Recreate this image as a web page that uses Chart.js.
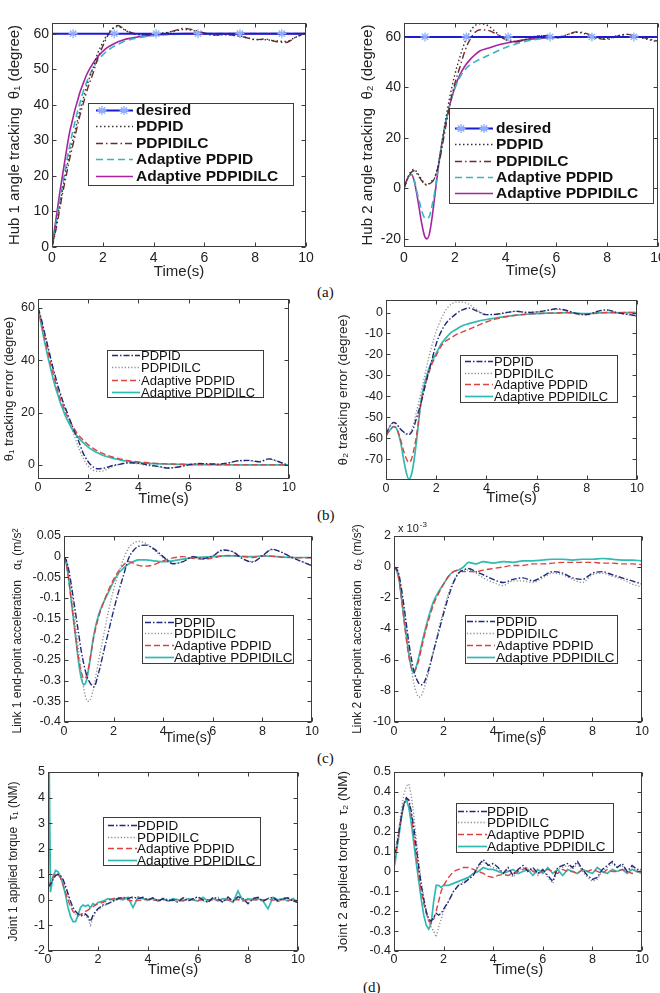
<!DOCTYPE html>
<html><head><meta charset="utf-8">
<script src="https://cdn.jsdelivr.net/npm/chart.js@4/dist/chart.umd.min.js"></script>
<style>
body{margin:0;background:#fff;width:660px;height:993px;position:relative;overflow:hidden}
canvas{position:absolute}
.cap{position:absolute;font-family:"Liberation Serif","Times New Roman",serif;font-size:15px;line-height:16px;color:#111}
</style></head><body>
<div class="cap" style="left:317px;top:284px">(a)</div>
<div class="cap" style="left:317px;top:507px">(b)</div>
<div class="cap" style="left:317px;top:750px">(c)</div>
<div class="cap" style="left:363px;top:979px">(d)</div>
<script>
// ---------- data ----------
const XT = [0,2,4,6,8,10];
const XL = ['0','2','4','6','8','10'];
const LEG_A = ['desired','PDPID','PDPIDILC','Adaptive PDPID','Adaptive PDPIDILC'];
const LEG_B = ['PDPID','PDPIDILC','Adaptive PDPID','Adaptive PDPIDILC'];

const TA = [0,0.1,0.2,0.3,0.4,0.5,0.6,0.7,0.8,0.9,1,1.1,1.2, 1.4,1.6,1.8,2,2.2,2.4,2.6,2.8,3, 3.3,3.6,4,4.4,4.8,5.2,5.6,6,6.4,6.8,7.2,7.6,8,8.4,8.8,9.2,9.6,10];
const TD = [0,0.05,0.1,0.2,0.3,0.4,0.5,0.6,0.7,0.8,0.9,1,1.1,1.2,1.3,1.4,1.5,1.6,1.7,1.8,1.9,2,
  2.2,2.4,2.6,2.8,3,3.2,3.4,3.6,3.8,4,4.2,4.4,4.6,4.8,5,5.2,5.4,5.6,5.8,6,6.2,6.4,6.6,6.8,7,7.2,7.4,7.6,7.8,8,8.2,8.4,8.6,8.8,9,9.2,9.4,9.6,9.8,10];

// (a) hub 1
const DES_T = [0,0.83,2.45,4.1,5.75,7.4,9.05,10];
const DES_V = [60,60,60,60,60,60,60,60];
const h1_pdpid = [0,3.5,7.5,11.5,15.5,19.5,23,26.5,29.5,32.5,35.5,38.5,41, 46,50,54.5,57.5,60,61.5,62,61.3,60.5, 59.8,59.7,59.9,60.2,60.7,61.2,60.8,60,59.6,59.7,59.6,59,58.4,58.3,58,57.8,59,60.2];
const h1_ilc   = [0,3,6.5,10.5,14.5,18,21.5,25,28,31,34,37,39.5, 44.5,48.5,53,56.5,59.5,61.5,62.3,61.5,60.6, 60,59.8,59.6,60,60.8,61.5,61,60.2,59.6,59.8,59.5,59,58.3,58.5,57.8,57.5,59,60.3];
const h1_adp   = [0,4,8.5,13,17,21,25,28.5,32,35,38,40.5,43, 47,50,52.5,54,55.3,56.3,57,57.7,58.2, 58.7,59.1,59.5,59.7,59.8,59.9,60,60,60,60,60,60,60,60,60,60,60,60];
const h1_adi   = [0,5,10,15,19.5,24,28.5,32.5,35.5,38.5,41,43.5,45.5, 49,51.5,53.5,55,56.2,57,57.7,58.2,58.6, 59,59.3,59.6,59.8,59.9,60,60,60,60,60,60,60,60,60,60,60,60,60];
// (a) hub 2
const h2_pdpid = [0,3,5.5,7,7.5,6.5,5,3.5,2,1.5,2,3,4, 12,25,36,45,52,58,62,64.5,65.2, 64.5,62,59,58.2,59,60.3,60.5,59.8,60.8,61.8,61,59.5,59.3,60.5,61,60,59,58];
const h2_ilc   = [0,3,5,6.5,7,6,4.5,3,1.8,1.3,1.8,2.5,4, 11,22,33,41.5,48,54.5,59,61.8,62.8, 62.6,61.3,59,58,59,60.3,60.5,59.6,60.8,62,61.3,59.6,59,60.3,61,60.2,59.3,58.3];
const h2_adp   = [0,3,5,5.5,3.5,-1,-5,-9,-11.5,-12,-11,-7,-2, 12,24,33,39.5,44,47,49,50.2,51.2, 52.6,54,55.8,57.2,58.3,59,59.4,59.7,59.9,60,60,60,60,60,60,60,60,60];
const h2_adi   = [0,3,5,5.5,3,-2,-8,-14,-18.5,-20,-18,-12,-4, 12,24,33,40,45,48.5,51,53,54.5, 55.5,56.5,57.5,58.3,58.9,59.3,59.6,59.8,59.9,60,60,60,60,60,60,60,60,60];
// (b) error 1
const e1_pdpid = [60,57,53,49,45,41,37,33.5,30,27,24,21.5,19, 14,9.5,4.5,1.2,-0.8,-1.5,-1.3,-0.8,-0.2, 0.3,0.8,0.6,0,-0.6,-1.2,-0.8,0,0.5,0.4,0.3,0.8,1.6,1.7,1.2,2.3,1.2,-0.3];
const e1_ilc   = [60,56.5,52.5,48.5,44.5,40.5,36.5,33,29.5,26.5,23.5,20.5,18, 12.5,7,2.5,-0.5,-2,-2.5,-2.3,-1.5,-0.5, 0.3,0.7,0.4,-0.3,-0.8,-1.2,-0.8,0,0.4,0.3,0.3,0.7,1.5,1.6,1.1,2.2,1.1,-0.3];
const e1_adp   = [60,56,51.5,47,43,39,35,31.5,28,25,22.5,20,18, 14.5,11.5,9.5,7.7,6.3,5.2,4.3,3.5,2.9, 2.2,1.6,1.1,0.8,0.5,0.35,0.25,0.15,0.1,0.1,0.05,0.05,0,0,0,0,0,0];
const e1_adi   = [60,55,50,45.5,41,37,33,29.5,26.5,23.5,21,18.5,16.5, 13,10.5,8.5,6.8,5.5,4.5,3.6,3,2.5, 1.8,1.3,0.9,0.6,0.4,0.3,0.2,0.15,0.1,0.1,0.05,0.05,0,0,0,0,0,0];
// (b) error 2
const e2_pdpid = [-58,-55.5,-53.5,-52.5,-53,-54.5,-56,-57,-58,-58.3,-57.5,-55,-51, -43,-33,-24,-15,-9,-5,-2.5,-0.5,1, 2.2,0.8,-1,-0.8,0,0.6,0,0.3,1,1.8,1,-0.5,-1,0.5,1.3,0,-0.8,-1.5];
const e2_ilc   = [-58,-55.5,-53.5,-52.5,-53,-54.5,-56,-57,-58,-57.5,-56.5,-53,-48, -38,-27,-17,-9,-3,1.5,4,5,5, 4,1.5,-1,-1,0,0.6,0.2,0.3,1,1.5,0.8,-0.8,-1.2,0.3,1.2,0,-1,-1.8];
const e2_adp   = [-59,-57,-55.5,-54.5,-55,-57.5,-61.5,-66,-69.5,-71.5,-70.5,-66,-60, -43,-33,-25.5,-20.5,-16,-13.5,-12,-10.5,-9.5, -8,-6.5,-4.5,-3,-2,-1.3,-0.8,-0.5,-0.3,-0.2,0,-0.5,-0.6,-0.3,0,-0.1,0,0];
const e2_adi   = [-59,-57,-55.5,-54.5,-55,-58,-63,-70,-76,-79.5,-78,-72,-63, -42,-31,-24,-19.5,-15,-12,-9.5,-8,-6.5, -5.3,-4.3,-3.3,-2.5,-1.8,-1.2,-0.8,-0.5,-0.3,-0.2,0,-0.3,-0.5,-0.2,0,-0.1,0,0];
// (c) acceleration 1
const a1_pdpid = [0,-0.01,-0.035,-0.07,-0.11,-0.15,-0.19,-0.23,-0.26,-0.285,-0.3,-0.31,-0.315, -0.28,-0.23,-0.18,-0.13,-0.085,-0.045,-0.005,0.015,0.025, 0.028,0.02,0,-0.017,-0.012,0,-0.005,0.002,0.016,0.012,-0.005,-0.013,0.002,0.018,0.01,-0.002,-0.012,-0.022];
const a1_ilc   = [0,-0.01,-0.04,-0.08,-0.13,-0.18,-0.23,-0.28,-0.32,-0.345,-0.35,-0.34,-0.315, -0.25,-0.19,-0.13,-0.08,-0.04,-0.005,0.02,0.033,0.037, 0.032,0.018,-0.003,-0.016,-0.012,0,-0.005,0.002,0.015,0.012,-0.005,-0.012,0.002,0.017,0.01,-0.002,-0.012,-0.02];
const a1_adp   = [0,-0.02,-0.06,-0.11,-0.16,-0.21,-0.25,-0.28,-0.295,-0.29,-0.265,-0.23,-0.195, -0.145,-0.11,-0.08,-0.055,-0.035,-0.02,-0.012,-0.016,-0.021, -0.023,-0.02,-0.01,-0.003,0,-0.004,-0.006,-0.003,0.002,0.003,0.001,-0.002,0.002,0.001,-0.001,-0.002,-0.003,-0.003];
const a1_adi   = [0,-0.02,-0.06,-0.11,-0.16,-0.21,-0.26,-0.295,-0.31,-0.3,-0.27,-0.23,-0.19, -0.14,-0.11,-0.085,-0.06,-0.04,-0.028,-0.018,-0.012,-0.008, -0.008,-0.01,-0.012,-0.01,-0.006,-0.003,-0.001,0,0.002,0.002,0,0,0.002,0.001,-0.001,-0.002,-0.002,-0.002];
// (c) acceleration 2 (x 1e-3)
const a2_pdpid = [0,-0.1,-0.5,-1.4,-2.5,-3.7,-4.9,-5.9,-6.7,-7.2,-7.5,-7.6,-7.5, -6.6,-5.4,-4.2,-3,-1.9,-1,-0.4,-0.2,-0.1, -0.3,-0.5,-0.8,-1,-0.8,-0.7,-0.9,-0.6,-0.3,-0.4,-0.7,-0.8,-0.4,-0.3,-0.5,-0.7,-0.9,-1.1];
const a2_ilc   = [0,-0.1,-0.5,-1.5,-2.8,-4.2,-5.5,-6.6,-7.5,-8.1,-8.4,-8.3,-7.9, -6.8,-5.4,-4,-2.8,-1.7,-0.9,-0.4,-0.2,-0.2, -0.4,-0.7,-1,-1.2,-0.9,-0.9,-1,-0.7,-0.4,-0.5,-0.8,-1,-0.5,-0.4,-0.6,-0.8,-1.1,-1.3];
const a2_adp   = [0,-0.2,-0.8,-2,-3.4,-4.7,-5.8,-6.5,-6.8,-6.5,-6,-5.3,-4.6, -3.4,-2.4,-1.7,-1.1,-0.6,-0.3,-0.2,-0.3,-0.3, -0.3,-0.2,-0.1,0,0.1,0.1,0.2,0.2,0.25,0.3,0.3,0.3,0.3,0.25,0.25,0.2,0.2,0.15];
const a2_adi   = [0,-0.2,-0.8,-2,-3.3,-4.5,-5.6,-6.5,-6.8,-6.4,-5.8,-5.1,-4.4, -3.2,-2.2,-1.6,-1.1,-0.6,-0.3,-0.2,0,0.3, 0.2,0.35,0.25,0.35,0.3,0.4,0.4,0.45,0.5,0.5,0.45,0.5,0.5,0.55,0.5,0.45,0.45,0.4];
// (d) torque 1
const t1_pdpid = [0.5,0.55,0.6,0.8,0.95,1.0,0.95,0.8,0.55,0.25,-0.05,-0.3,-0.45,-0.55,-0.6,-0.6,-0.55,-0.65,-0.85,-0.6,-0.45,-0.35,
  -0.2,-0.15,-0.05,0.05,0.1,0.05,0.12,0.05,0.1,0, 0.08,-0.05,0.05,-0.05,0,-0.1,0.08,-0.05,0.05,0.12, 0,-0.1,0.1,0.05,-0.1,0.1,-0.05,0.12,0.05,-0.15, 0.05,0.1,-0.05,0.05,0.1,-0.05,0.05,0.08,-0.05,-0.1];
const t1_ilc   = [0.5,0.55,0.65,0.85,0.98,1.0,0.92,0.75,0.45,0.15,-0.15,-0.4,-0.55,-0.62,-0.65,-0.62,-0.6,-0.75,-1.0,-0.7,-0.5,-0.4,
  -0.25,-0.15,-0.05,0,0.08,0.1,0.05,0.12,0.05,-0.05, 0.1,-0.05,0,0.05,-0.05,-0.05,0.1,0,0.05,0.1, -0.05,-0.1,0.05,0.1,-0.05,0.12,-0.1,0.1,0,-0.12, 0.08,0.05,-0.08,0.08,0.05,-0.1,0.08,0.05,-0.05,-0.12];
const t1_adp   = [0.5,0.6,0.7,0.9,1.0,1.0,0.85,0.6,0.3,0,-0.25,-0.45,-0.55,-0.6,-0.58,-0.52,-0.45,-0.4,-0.32,-0.27,-0.2,-0.15,
  -0.1,-0.02,0.05,0.08,0.05,0,-0.05,-0.02,0,0.02, -0.02,0,0.02,-0.02,0,0.01,-0.01,0,0.02,-0.02, 0,0.01,-0.01,0,0.02,-0.01,0,0.01,-0.01,0, 0.01,-0.01,0,0.02,-0.01,0,0.01,-0.01,0,-0.02];
const t1_adi   = [0.2,5,0.3,0.9,1.15,1.1,0.9,0.6,0.2,-0.3,-0.65,-0.85,-0.85,-0.6,-0.3,-0.2,-0.25,-0.2,-0.3,-0.15,-0.2,-0.1,
  -0.05,0.05,0,0.05,0,0.1,-0.3,0.1,0.05,0, 0.05,-0.05,0.05,-0.05,0.05,0,-0.05,0.05,0,-0.05, 0.1,-0.05,0.05,-0.05,0.05,0,-0.1,0.35,-0.05,0.05, 0,0.05,-0.05,-0.35,0.1,0,0.05,-0.05,0.05,-0.1];
// (d) torque 2
const t2_pdpid = [0.12,0.1,0.12,0.2,0.28,0.34,0.37,0.36,0.3,0.22,0.12,0.02,-0.07,-0.14,-0.2,-0.24,-0.25,-0.23,-0.21,-0.22,-0.21,-0.19,
  -0.15,-0.1,-0.07,-0.06,-0.04,-0.02,0.03,0.06,0.03,0.04, 0.02,-0.01,0.02,-0.02,0.01,0.03,0,0.02,-0.01,0.01, -0.02,-0.05,0.02,0.03,0.04,0.02,0.05,0.01,-0.02,-0.04, -0.03,0.01,0.03,0.05,0.02,0.04,0,0.03,0.01,0.01];
const t2_ilc   = [0.1,0.12,0.14,0.22,0.31,0.39,0.43,0.44,0.38,0.28,0.16,0.05,-0.05,-0.13,-0.2,-0.25,-0.28,-0.3,-0.33,-0.28,-0.24,-0.2,
  -0.15,-0.1,-0.07,-0.05,-0.03,-0.01,0.02,0.05,0.03,0.02, 0.01,-0.01,0.01,-0.03,0,0.02,0,0.01,-0.02,0.01, -0.03,-0.06,0.01,0.02,0.03,0.01,0.04,0,-0.03,-0.05, -0.04,0,0.02,0.04,0.02,0.03,-0.01,0.02,0,0];
const t2_adp   = [0.05,0.07,0.12,0.2,0.28,0.34,0.37,0.35,0.28,0.18,0.08,-0.02,-0.1,-0.16,-0.21,-0.25,-0.26,-0.24,-0.2,-0.15,-0.1,-0.07,
  -0.03,0,0.01,0.02,0.02,0.01,0,-0.01,-0.025,-0.03, -0.02,-0.015,-0.02,-0.01,0,0.01,0.02,0,-0.01,0, 0.01,0,-0.01,0.01,0,0,-0.01,0.01,0,0.01, 0,-0.01,0.01,0,0,0.01,0,-0.01,0,0];
const t2_adi   = [0.02,0.05,0.1,0.18,0.27,0.34,0.36,0.32,0.24,0.14,0.04,-0.05,-0.14,-0.22,-0.27,-0.29,-0.26,-0.15,-0.07,-0.07,-0.08,-0.07,
  -0.07,-0.06,-0.05,-0.04,-0.03,-0.01,0,0.02,0.01,0.01, 0,-0.01,0,0.01,-0.01,0,0.01,-0.02,0.01,-0.01, 0.02,-0.01,0.01,-0.02,0.01,0,-0.01,0.01,0,-0.01, 0.02,0,-0.01,0.01,0,0.01,-0.01,0.01,0,-0.01];

// tick values / labels
const Y1T=[0,10,20,30,40,50,60], Y1L=['0','10','20','30','40','50','60'];
const Y2T=[-20,0,20,40,60], Y2L=['-20','0','20','40','60'];
const Y3T=[0,20,40,60], Y3L=['0','20','40','60'];
const Y4T=[-70,-60,-50,-40,-30,-20,-10,0], Y4L=['-70','-60','-50','-40','-30','-20','-10','0'];
const Y5T=[-0.4,-0.35,-0.3,-0.25,-0.2,-0.15,-0.1,-0.05,0,0.05], Y5L=['-0.4','-0.35','-0.3','-0.25','-0.2','-0.15','-0.1','-0.05','0','0.05'];
const Y6T=[-10,-8,-6,-4,-2,0,2], Y6L=['-10','-8','-6','-4','-2','0','2'];
const Y7T=[-2,-1,0,1,2,3,4,5], Y7L=['-2','-1','0','1','2','3','4','5'];
const Y8T=[-0.4,-0.3,-0.2,-0.1,0,0.1,0.2,0.3,0.4,0.5], Y8L=['-0.4','-0.3','-0.2','-0.1','0','0.1','0.2','0.3','0.4','0.5'];

// ---------- styles ----------
const FF = "'Liberation Sans', Arial, 'DejaVu Sans', sans-serif";
const STYLE_A = [
  {color:'#1b1bd6', dash:[], width:2, marker:true},
  {color:'#333333', dash:[1.5,2.5], width:1.4},
  {color:'#6e2b2b', dash:[7,3,1.5,3], width:1.4},
  {color:'#33b8c4', dash:[7,4], width:1.6},
  {color:'#a8239f', dash:[], width:1.6}
];
const STYLE_B = [
  {color:'#1f2a7a', dash:[6,2,1.5,2], width:1.4},
  {color:'#8c8c8c', dash:[1.2,2], width:1.3},
  {color:'#d9443f', dash:[6,3], width:1.4},
  {color:'#2fbab2', dash:[], width:1.7}
];

function star(ctx,x,y,r,col){
  ctx.save(); ctx.strokeStyle=col; ctx.lineWidth=1.3; ctx.setLineDash([]); ctx.beginPath();
  for(let k=0;k<4;k++){const an=k*Math.PI/4; ctx.moveTo(x-r*Math.cos(an),y-r*Math.sin(an)); ctx.lineTo(x+r*Math.cos(an),y+r*Math.sin(an));}
  ctx.stroke(); ctx.restore();
}

function deco(c, spec, ox, oy){
  const ctx=c.ctx, a=c.chartArea, xs=c.scales.x, ys=c.scales.y;
  ctx.save();
  ctx.setLineDash([]); ctx.strokeStyle='#3c3c3c'; ctx.lineWidth=1;
  const L=Math.round(a.left)+0.5, R=Math.round(a.right)-0.5, T=Math.round(a.top)+0.5, B=Math.round(a.bottom)-0.5;
  ctx.strokeRect(L,T,R-L,B-T);
  ctx.beginPath();
  xs.ticks.forEach(t=>{const p=Math.round(xs.getPixelForValue(t.value))+0.5; ctx.moveTo(p,B); ctx.lineTo(p,B-4); ctx.moveTo(p,T); ctx.lineTo(p,T+4);});
  ys.ticks.forEach(t=>{const p=Math.round(ys.getPixelForValue(t.value))+0.5; ctx.moveTo(L,p); ctx.lineTo(L+4,p); ctx.moveTo(R,p); ctx.lineTo(R-4,p);});
  ctx.stroke();
  const g=spec.legend;
  if(g){
    const bx=Math.round(g.box[0]-ox)+0.5, by=Math.round(g.box[1]-oy)+0.5, bw=g.box[2]-g.box[0], bh=g.box[3]-g.box[1];
    ctx.fillStyle='#fff'; ctx.fillRect(bx,by,bw,bh);
    ctx.strokeStyle='#3c3c3c'; ctx.lineWidth=1; ctx.strokeRect(bx,by,bw,bh);
    ctx.font=g.font; ctx.textBaseline='middle'; ctx.textAlign='left';
    c.data.datasets.forEach((ds,i)=>{
      const y=Math.round(g.rows[i]-oy)+0.5, x0=g.line[0]-ox, x1=g.line[1]-ox;
      ctx.beginPath(); ctx.setLineDash(ds.borderDash||[]); ctx.strokeStyle=ds.borderColor; ctx.lineWidth=ds.borderWidth;
      ctx.moveTo(x0,y); ctx.lineTo(x1,y); ctx.stroke(); ctx.setLineDash([]);
      if(spec.styles[i].marker){ [x0+6,x1-9].forEach(mx=>star(ctx,mx,y,4.5,'#8fb0ff')); }
      ctx.fillStyle='#111'; ctx.fillText(ds.label, g.text-ox, y+0.5);
    });
  }
  if(spec.exp){
    ctx.fillStyle='#222'; ctx.textBaseline='alphabetic'; ctx.textAlign='left';
    ctx.font='11px '+FF; const base='x 10'; ctx.fillText(base, spec.exp[0]-ox, spec.exp[1]-oy);
    const w=ctx.measureText(base).width;
    ctx.font='8px '+FF; ctx.fillText('-3', spec.exp[0]-ox+w+1, spec.exp[1]-oy-5);
  }
  ctx.restore();
}

function build(spec){
  const [pl,ptp,prt,pbt] = spec.plot;
  const left = pl - spec.yw, top = ptp - spec.pt;
  const cw = prt - pl + spec.yw + spec.pr, ch = pbt - ptp + spec.pt + spec.xh;
  const cv = document.createElement('canvas');
  cv.width=cw; cv.height=ch;
  cv.style.left=left+'px'; cv.style.top=top+'px'; cv.style.width=cw+'px'; cv.style.height=ch+'px';
  document.body.appendChild(cv);
  const datasets = spec.series.map((s,i)=>{
    const st=spec.styles[i];
    return {
      label: spec.names[i],
      data: s.t.map((t,j)=>({x:t,y:s.v[j]})),
      borderColor: st.color, borderDash: st.dash, borderWidth: st.width,
      pointRadius: st.marker ? (cx=>(cx.dataIndex===0||cx.dataIndex===s.t.length-1)?0:4.5) : 0,
      pointStyle: 'star', pointBorderColor:'#8fb0ff', pointBackgroundColor:'#8fb0ff', pointBorderWidth:1.3,
      fill:false,
      tension: 0,
      cubicInterpolationMode: spec.smooth ? 'monotone' : 'default'
    };
  });
  new Chart(cv,{
    type:'line',
    data:{datasets},
    options:{
      responsive:false, animation:false, devicePixelRatio:1, events:[],
      layout:{autoPadding:false, padding:{top:spec.pt,right:spec.pr,bottom:0,left:0}},
      plugins:{legend:{display:false}, tooltip:{enabled:false}},
      scales:{
        x:{type:'linear', min:0, max:10,
          afterBuildTicks:s=>{s.ticks=XT.map(v=>({value:v}));},
          afterFit:s=>{s.height=spec.xh; s.paddingLeft=0; s.paddingRight=0;},
          grid:{display:false, drawTicks:false}, border:{display:false},
          ticks:{autoSkip:false, maxRotation:0, padding:spec.xtp, color:'#222', font:{family:FF,size:spec.xtf}, callback:(v,i)=>XL[i]},
          title:{display:true, text:'Time(s)', color:'#222', font:{family:FF,size:spec.xtitf}, padding:{top:0,bottom:2}}
        },
        y:{type:'linear', min:spec.ymin, max:spec.ymax,
          afterBuildTicks:s=>{s.ticks=spec.yt.map(v=>({value:v}));},
          afterFit:s=>{s.width=spec.yw; s.paddingTop=0; s.paddingBottom=0;},
          grid:{display:false, drawTicks:false}, border:{display:false},
          ticks:{autoSkip:false, padding:3, color:'#222', font:{family:FF,size:spec.ytf}, callback:(v,i)=>spec.yl[i]},
          title:{display:true, text:spec.ytitle, color:'#222', font:{family:FF,size:spec.ytitf}, padding:{top:spec.ytp,bottom:0}}
        }
      }
    },
    plugins:[{id:'deco', afterDraw:c=>deco(c,spec,left,top)}]
  });
}

const rowA = (s)=>Object.assign({styles:STYLE_A,names:LEG_A,smooth:true,xtf:14,ytf:14,xtp:3,xtitf:15,ytitf:15,pt:10,pr:10},s);
const rowB = (s)=>Object.assign({styles:STYLE_B,names:LEG_B,smooth:true,xtf:12.5,ytf:12.5,xtp:1,xtitf:15,ytitf:13,pt:10,pr:10},s);

build(rowA({plot:[52,23,306,247], yw:52, xh:36, ymin:0, ymax:63, yt:Y1T, yl:Y1L, ytp:6,
  ytitle:'Hub 1 angle tracking  θ\u2081 (degree)',
  series:[{t:DES_T,v:DES_V},{t:TA,v:h1_pdpid},{t:TA,v:h1_ilc},{t:TA,v:h1_adp},{t:TA,v:h1_adi}],
  legend:{box:[88,103,293,185], line:[96,133], text:136, rows:[110,126,143,159,176], font:'bold 15.5px '+FF}}));
build(rowA({plot:[404,23,658,247], yw:50, xh:35, pr:2, ymin:-23.2, ymax:65.5, yt:Y2T, yl:Y2L, ytp:5,
  ytitle:'Hub 2 angle tracking  θ\u2082 (degree)',
  series:[{t:DES_T,v:DES_V},{t:TA,v:h2_pdpid},{t:TA,v:h2_ilc},{t:TA,v:h2_adp},{t:TA,v:h2_adi}],
  legend:{box:[449,108,653,203], line:[455,493], text:496, rows:[128,144,161,177,193], font:'bold 15.5px '+FF}}));
build(rowB({plot:[38,299,289,479], yw:38, xh:31, ymin:-5.4, ymax:63.4, yt:Y3T, yl:Y3L, ytp:2,
  ytitle:'θ\u2081 tracking error (degree)',
  series:[{t:TA,v:e1_pdpid},{t:TA,v:e1_ilc},{t:TA,v:e1_adp},{t:TA,v:e1_adi}],
  legend:{box:[107,350,263,397], line:[112,140], text:141, rows:[355,367,380,392], font:'13px '+FF}}));
build(rowB({plot:[386,300,637,480], yw:55, xh:29, pr:12, ymin:-80, ymax:6, yt:Y4T, yl:Y4L, ytp:4, ytitf:13.5,
  ytitle:'θ\u2082 tracking error (degree)',
  series:[{t:TA,v:e2_pdpid},{t:TA,v:e2_ilc},{t:TA,v:e2_adp},{t:TA,v:e2_adi}],
  legend:{box:[460,355,617,402], line:[465,493], text:494, rows:[361,373,384,396], font:'13px '+FF}}));
build(rowB({plot:[64,536,312,722], yw:64, xh:27, pt:8, xtp:2, ymin:-0.4, ymax:0.05, yt:Y5T, yl:Y5L, ytp:10, ytitf:12, xtitf:14,
  ytitle:'Link 1 end-point acceleration   α\u2081 (m/s\u00b2)',
  series:[{t:TA,v:a1_pdpid},{t:TA,v:a1_ilc},{t:TA,v:a1_adp},{t:TA,v:a1_adi}],
  legend:{box:[142,615,293,663], line:[145,174], text:174, rows:[622,633,645,657], font:'13.5px '+FF}}));
build(rowB({plot:[394,536,642,722], yw:50, xh:27, pt:20, xtp:2, ymin:-10, ymax:2, yt:Y6T, yl:Y6L, ytp:6, ytitf:12, xtitf:14,
  ytitle:'Link 2 end-point acceleration   α\u2082 (m/s\u00b2)', exp:[398,532],
  series:[{t:TA,v:a2_pdpid},{t:TA,v:a2_ilc},{t:TA,v:a2_adp},{t:TA,v:a2_adi}],
  legend:{box:[465,615,617,663], line:[467,495], text:496, rows:[621,633,645,657], font:'13.5px '+FF}}));
build(rowB({plot:[48,772,298,951], yw:48, xh:30, smooth:false, ymin:-2, ymax:5, yt:Y7T, yl:Y7L, ytp:6, ytitf:12,
  ytitle:'Joint 1 applied torque  τ\u2081 (NM)',
  series:[{t:TD,v:t1_pdpid},{t:TD,v:t1_ilc},{t:TD,v:t1_adp},{t:TD,v:t1_adi}],
  legend:{box:[103,817,260,865], line:[108,137], text:137, rows:[825,837,848,860], font:'13.5px '+FF}}));
build(rowB({plot:[394,772,642,951], yw:60, xh:30, smooth:false, ymin:-0.4, ymax:0.5, yt:Y8T, yl:Y8L, ytp:1, ytitf:13.5,
  ytitle:'Joint 2 applied torque  τ\u2082 (NM)',
  series:[{t:TD,v:t2_pdpid},{t:TD,v:t2_ilc},{t:TD,v:t2_adp},{t:TD,v:t2_adi}],
  legend:{box:[456,803,613,852], line:[458,487], text:487, rows:[811,822,834,846], font:'13.5px '+FF}}));
</script>
</body></html>
